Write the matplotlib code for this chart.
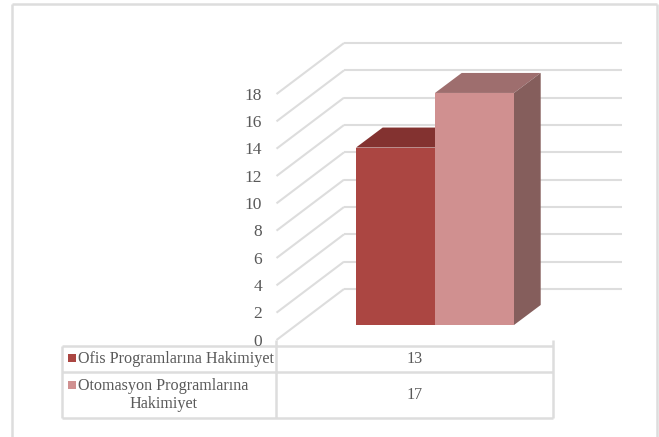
import matplotlib
matplotlib.use("Agg")
import matplotlib.pyplot as plt
from matplotlib.patches import Polygon, Rectangle

plt.rcParams['font.family'] = ['Liberation Serif', 'DejaVu Serif']

series_names = ["Ofis Programlarına Hakimiyet", "Otomasyon Programlarına\nHakimiyet"]
series_values = [13, 17]
value_ticks = [0, 2, 4, 6, 8, 10, 12, 14, 16, 18]
front_colors = ["#AB4642", "#D09090"]
top_colors = ["#833230", "#9E6E6E"]
side_colors = ["#833230", "#855E5C"]
GRID = "#DDDDDD"
TEXT = "#595959"

W, H = 659, 437
PX_X, PX_Y = 79.0, 13.65
X0, Y0 = 395.5, 325.0
fig = plt.figure(figsize=(W / 100, H / 100), dpi=100)
ax = fig.add_axes([0, 0, 1, 1])
ax.set_xlim(-X0 / PX_X, (W - X0) / PX_X)
ax.set_ylim(-(H - Y0) / PX_Y, Y0 / PX_Y)
ax.axis("off")

def ux(px): return (px - X0) / PX_X
def uy(py): return (Y0 - py) / PX_Y

def seg(x1, y1, x2, y2, lw=1.5, c=GRID, z=1):
    ax.plot([ux(x1), ux(x2)], [uy(y1), uy(y2)], color=c, lw=lw, zorder=z, solid_capstyle="butt")

# outer frame (open at the bottom edge of the picture)
seg(12, 437, 12, 4, lw=1.8)
seg(12, 4, 657, 4, lw=1.8)
seg(657, 4, 657, 437, lw=1.8)

# gridlines: value v at the front wall edge and at the back wall
front_x, back_x, right_x = 276.5, 344.0, 622.0
front_y0, back_y0 = 340.0, 289.0
step = 13.665 * 2 / 2
for v in value_ticks:
    yf = front_y0 - v * step
    yb = back_y0 - v * step
    seg(front_x, yf, back_x, yb)
    seg(back_x, yb, right_x, yb)
    ax.text(ux(262), uy(yf + 1.5), str(v), ha="right", va="center", fontsize=12.5, color=TEXT, zorder=6)

# bars
dx_u, dy_u = 26.7 / PX_X, 20.0 / PX_Y
for i, val in enumerate(series_values):
    l, r = i - 0.5, i + 0.5
    ax.bar(i, val, width=1.0, color=front_colors[i], zorder=3 + i, linewidth=0)
    ax.add_patch(Polygon([(l, val), (r, val), (r + dx_u, val + dy_u), (l + dx_u, val + dy_u)],
                         fc=top_colors[i], ec="none", zorder=2 + i))
    ax.add_patch(Polygon([(r, 0), (r + dx_u, dy_u), (r + dx_u, val + dy_u), (r, val)],
                         fc=side_colors[i], ec="none", zorder=2 + i))

# data table
tl, tm, tr = 62.0, 276.0, 553.0
ty = [346.0, 372.0, 418.0]
lw = 1.8
for y in ty:
    seg(tl, y, tr, y, lw=lw, z=2)
seg(tl, ty[0], tl, ty[-1], lw=lw, z=2)
seg(tm, 340, tm, ty[-1], lw=lw, z=2)
seg(tr, 340, tr, ty[-1], lw=lw, z=2)

FS = 11.6
# first row
ax.add_patch(Rectangle((ux(68), uy(362)), 8 / PX_X, 8 / PX_Y, fc=front_colors[0], ec="none", zorder=5))
ax.text(ux(78), uy(359), series_names[0], ha="left", va="center", fontsize=FS, color=TEXT)
ax.text(ux(414.5), uy(359), str(series_values[0]), ha="center", va="center", fontsize=FS, color=TEXT)

# second row
first, second = series_names[1].split("\n")
ax.add_patch(Rectangle((ux(68), uy(389)), 8 / PX_X, 8 / PX_Y, fc=front_colors[1], ec="none", zorder=5))
ax.text(ux(78), uy(385.5), first, ha="left", va="center", fontsize=FS, color=TEXT)
ax.text(ux(163), uy(404.5), second, ha="center", va="center", fontsize=FS, color=TEXT)
ax.text(ux(414.5), uy(395), str(series_values[1]), ha="center", va="center", fontsize=FS, color=TEXT)

fig.savefig("out.png", dpi=100)
